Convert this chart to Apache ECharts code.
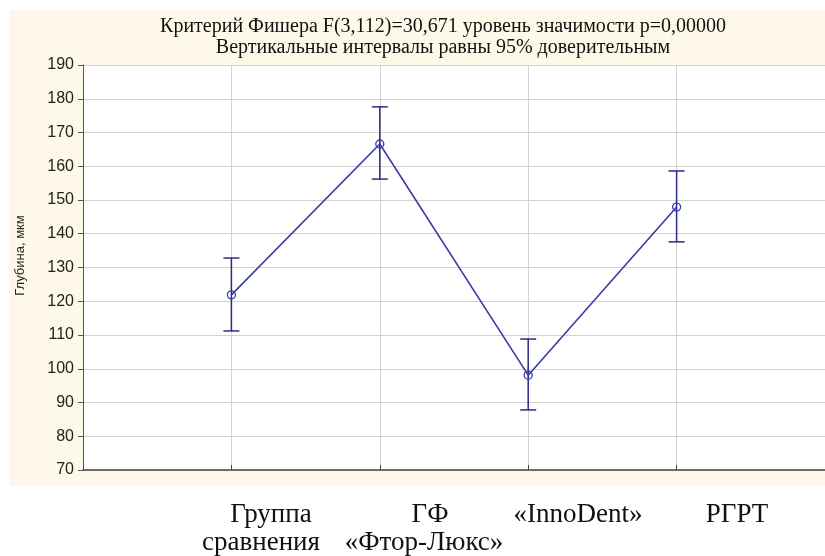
<!DOCTYPE html>
<html>
<head>
<meta charset="utf-8">
<script src="https://cdn.jsdelivr.net/npm/echarts@6/dist/echarts.min.js"></script>
<style>
  html, body { margin: 0; padding: 0; background: #ffffff; }
  #chart { width: 825px; height: 556px; }
</style>
</head>
<body>
<div id="chart"></div>
<script>
// Groups compared
const categories = ['Группа\nсравнения', 'ГФ\n«Фтор-Люкс»', '«InnoDent»', 'РГРТ'];
// Mean depth, µm, and 95% confidence limits
const means = [121.9, 166.6, 98.1, 147.9];
const lower = [111.2, 156.2, 87.8, 137.6];
const upper = [132.8, 177.6, 108.8, 158.6];
// Y axis ticks
const yMin = 70, yMax = 190, yStep = 10;

const titleLines = [
  'Критерий Фишера F(3,112)=30,671 уровень значимости p=0,00000',
  'Вертикальные интервалы равны 95% доверительным'
];

const chart = echarts.init(document.getElementById('chart'));

const lineColor = '#3a3aa8';
const barColor = '#2b2b85';

// Category captions set under the panel, one text per line (centre x of each line)
const captionX = [
  [271, 261], [430, 424], [578], [737]
];
const captionTop = [501, 529];
const captionGraphics = [];
categories.forEach((c, i) => {
  c.split('\n').forEach((ln, j) => {
    captionGraphics.push({
      type: 'text',
      x: captionX[i][j],
      y: captionTop[j],
      style: {
        text: ln,
        fill: '#111',
        font: '27px "Liberation Serif", "Times New Roman", serif',
        textAlign: 'center',
        textVerticalAlign: 'top'
      }
    });
  });
});

chart.setOption({
  backgroundColor: '#ffffff',
  animation: false,
  graphic: [
    {
      type: 'rect',
      z: -10,
      shape: { x: 9, y: 10, width: 816, height: 476 },
      style: { fill: '#fdf8e7' }
    },
    {
      type: 'text',
      z: 10,
      x: 443,
      y: 16,
      style: {
        text: titleLines.join('\n'),
        fill: '#111',
        font: '20px "Liberation Serif", "Times New Roman", serif',
        textAlign: 'center',
        textVerticalAlign: 'top',
        lineHeight: 21
      }
    },
    ...captionGraphics
  ],
  grid: {
    left: 83, top: 65, right: -5, bottom: 86,
    show: true, backgroundColor: '#ffffff', borderWidth: 0
  },
  xAxis: {
    type: 'value', min: 0, max: 5, interval: 1,
    axisLine: { show: true, lineStyle: { color: '#444', width: 1.5 } },
    axisTick: { show: true, inside: true, length: 5, lineStyle: { color: '#444' } },
    axisLabel: { show: false },
    splitLine: { show: true, lineStyle: { color: '#d2d2d2', width: 1 } }
  },
  yAxis: {
    type: 'value', min: yMin, max: yMax, interval: yStep,
    name: 'Глубина, мкм',
    nameLocation: 'middle',
    nameGap: 56,
    nameRotate: 90,
    nameTextStyle: { fontFamily: '"Liberation Sans", Arial, sans-serif', fontSize: 13, color: '#222', padding: [0, 0, 0, 24] },
    axisLine: { show: true, lineStyle: { color: '#555', width: 1 } },
    axisTick: { show: true, inside: false, length: 5, lineStyle: { color: '#555' } },
    axisLabel: { fontFamily: '"Liberation Sans", Arial, sans-serif', fontSize: 16, color: '#222', margin: 9 },
    splitLine: { show: true, lineStyle: { color: '#d2d2d2', width: 1 } }
  },
  series: [
    {
      type: 'custom',
      z: 3,
      data: means.map((m, i) => [i + 1, lower[i], upper[i]]),
      renderItem: function (params, api) {
        const x = api.value(0);
        const lo = api.coord([x, api.value(1)]);
        const hi = api.coord([x, api.value(2)]);
        const hw = 8;
        const st = { stroke: barColor, lineWidth: 1.5 };
        return {
          type: 'group',
          children: [
            { type: 'line', shape: { x1: lo[0], y1: lo[1], x2: hi[0], y2: hi[1] }, style: st },
            { type: 'line', shape: { x1: lo[0] - hw, y1: lo[1], x2: lo[0] + hw, y2: lo[1] }, style: st },
            { type: 'line', shape: { x1: hi[0] - hw, y1: hi[1], x2: hi[0] + hw, y2: hi[1] }, style: st }
          ]
        };
      }
    },
    {
      type: 'line',
      z: 4,
      data: means.map((m, i) => [i + 1, m]),
      symbol: 'circle',
      symbolSize: 8,
      showAllSymbol: true,
      lineStyle: { color: lineColor, width: 1.6 },
      itemStyle: { color: 'rgba(255,255,255,0)', borderColor: lineColor, borderWidth: 1.3 }
    }
  ]
});
</script>
</body>
</html>
